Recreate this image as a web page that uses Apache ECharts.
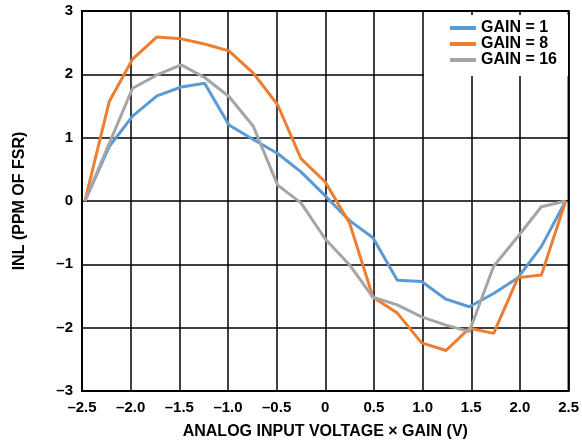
<!DOCTYPE html>
<html>
<head>
<meta charset="utf-8">
<script src="https://cdn.jsdelivr.net/npm/echarts@6/dist/echarts.min.js"></script>
<style>
  html, body { margin: 0; padding: 0; background: #fff; }
  #chart { width: 582px; height: 446px; }
</style>
</head>
<body>
<div id="chart"></div>
<script>
// input voltage x gain (V)
const xValues = [-2.47, -2.22, -1.98, -1.73, -1.48, -1.24, -0.99, -0.74, -0.49, -0.25, 0,
  0.25, 0.49, 0.74, 0.99, 1.24, 1.48, 1.73, 1.98, 2.22, 2.47];

// INL in ppm of FSR
const gain1 = [0, 0.86, 1.34, 1.66, 1.80, 1.86, 1.20, 0.97, 0.75, 0.46, 0.08,
  -0.31, -0.58, -1.25, -1.27, -1.55, -1.67, -1.46, -1.21, -0.72, 0];
const gain8 = [0, 1.57, 2.24, 2.59, 2.56, 2.48, 2.37, 2.02, 1.52, 0.67, 0.30,
  -0.35, -1.52, -1.77, -2.24, -2.36, -2.01, -2.09, -1.21, -1.17, 0];
const gain16 = [0, 0.91, 1.78, 1.99, 2.15, 1.95, 1.65, 1.18, 0.25, -0.03, -0.60,
  -1.01, -1.52, -1.64, -1.83, -1.96, -2.06, -1.03, -0.56, -0.09, 0];

const seriesNames = ['GAIN = 1', 'GAIN = 8', 'GAIN = 16'];
const seriesColors = ['#5b9bd5', '#ed7d31', '#a5a5a5'];

const dash = v => String(v).replace('-', '\u2013');

const chart = echarts.init(document.getElementById('chart'));

const makeSeries = (name, values, color) => ({
  name: name,
  type: 'line',
  data: xValues.map((x, i) => [x, values[i]]),
  symbol: 'none',
  lineStyle: { width: 3, color: color },
  itemStyle: { color: color }
});

chart.setOption({
  animation: false,
  textStyle: { fontFamily: 'Liberation Sans, Arial, sans-serif' },
  grid: {
    left: 82,
    right: 13,
    top: 11,
    bottom: 55,
    show: true,
    borderColor: '#000',
    borderWidth: 2
  },
  legend: {
    data: seriesNames,
    orient: 'vertical',
    right: 14,
    top: 15,
    itemGap: 0,
    itemWidth: 26,
    itemHeight: 4,
    icon: 'rect',
    backgroundColor: '#fff',
    padding: [5, 11, 8, 26],
    textStyle: { fontSize: 16, lineHeight: 16, fontWeight: 'bold', color: '#000' }
  },
  xAxis: {
    type: 'value',
    min: -2.5,
    max: 2.5,
    interval: 0.5,
    name: 'ANALOG INPUT VOLTAGE \u00d7 GAIN (V)',
    nameLocation: 'middle',
    nameGap: 33,
    nameTextStyle: { fontSize: 16, fontWeight: 'bold', color: '#000' },
    axisLine: { show: false },
    axisTick: { show: false },
    axisLabel: {
      fontSize: 15,
      fontWeight: 'bold',
      color: '#000',
      margin: 9,
      formatter: v => v === 0 ? '0' : dash(v.toFixed(1))
    },
    splitLine: { lineStyle: { color: '#000', width: 1.5 } }
  },
  yAxis: {
    type: 'value',
    min: -3,
    max: 3,
    interval: 1,
    name: 'INL (PPM OF FSR)',
    nameLocation: 'middle',
    nameGap: 54,
    nameTextStyle: { fontSize: 16, fontWeight: 'bold', color: '#000' },
    axisLine: { show: false },
    axisTick: { show: false },
    axisLabel: {
      fontSize: 15,
      fontWeight: 'bold',
      color: '#000',
      margin: 9,
      formatter: v => dash(v)
    },
    splitLine: { lineStyle: { color: '#000', width: 1.5 } }
  },
  series: [
    makeSeries(seriesNames[0], gain1, seriesColors[0]),
    makeSeries(seriesNames[1], gain8, seriesColors[1]),
    makeSeries(seriesNames[2], gain16, seriesColors[2])
  ]
});
</script>
</body>
</html>
